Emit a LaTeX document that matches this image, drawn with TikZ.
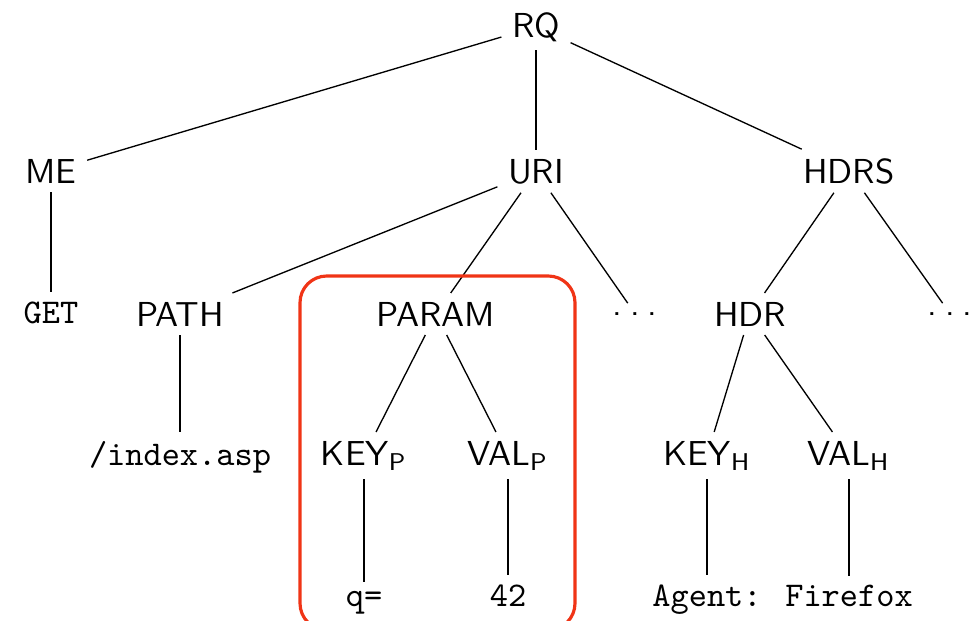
\documentclass[tikz,border=0pt]{standalone}
\usepackage{amsmath}
\definecolor{hilite}{RGB}{240,52,22}
\tikzset{
  lbl/.style={font=\fontsize{10.4}{12.5}\selectfont\sffamily, inner xsep=3pt, inner ysep=2.5pt, anchor=base},
  tok/.style={font=\fontsize{10.4}{12.5}\selectfont\ttfamily, inner xsep=3pt, inner ysep=2.5pt, anchor=base},
  edge/.style={draw=black, line width=0.4pt},
}
% three spaced dots for omitted siblings
\newcommand{\omitdots}{.\kern2.4pt.\kern2.4pt.}
\begin{document}
\begin{tikzpicture}[x=0.3pt, y=-0.3pt]
  \useasboundingbox (0,0) rectangle (977,620);
  \clip (0,0) rectangle (977,620);

  % root and first level
  \node[lbl] (rq)   at (536,37)  {RQ};
  \node[lbl] (me)   at (51,183)  {ME};
  \node[lbl] (uri)  at (536,183) {URI};
  \node[lbl] (hdrs) at (849,183) {HDRS};

  % second level
  \node[tok] (get)   at (51,323)  {GET};
  \node[lbl] (path)  at (180,326) {PATH};
  \node[lbl] (param) at (436,326) {PARAM};
  \node[lbl] (dotsa) at (635,315) {\omitdots};
  \node[lbl] (hdr)   at (750,326) {HDR};
  \node[lbl] (dotsb) at (950,315) {\omitdots};

  % third level
  \node[tok] (idx)  at (180,465) {/index.asp};
  \node[lbl] (keyp) at (364,465) {KEY$_{\textsf{P}}$};
  \node[lbl] (valp) at (508,465) {VAL$_{\textsf{P}}$};
  \node[lbl] (keyh) at (707,465) {KEY$_{\textsf{H}}$};
  \node[lbl] (valh) at (849,465) {VAL$_{\textsf{H}}$};

  % leaves
  \node[tok] (q)     at (364,606) {q=};
  \node[tok] (num)   at (508,606) {42};
  \node[tok] (agent) at (707,606) {Agent:};
  \node[tok] (ff)    at (849,606) {Firefox};

  % tree edges
  \draw[edge] (rq) -- (me);
  \draw[edge] (rq) -- (uri);
  \draw[edge] (rq) -- (hdrs);
  \draw[edge] (me) -- (get);
  \draw[edge] (uri) -- (path);
  \draw[edge] (uri) -- (param);
  \draw[edge] (uri) -- (dotsa);
  \draw[edge] (hdrs) -- (hdr);
  \draw[edge] (hdrs) -- (dotsb);
  \draw[edge] (path) -- (idx);
  \draw[edge] (param) -- (keyp);
  \draw[edge] (param) -- (valp);
  \draw[edge] (keyp) -- (q);
  \draw[edge] (valp) -- (num);
  \draw[edge] (hdr) -- (keyh);
  \draw[edge] (hdr) -- (valh);
  \draw[edge] (keyh) -- (agent);
  \draw[edge] (valh) -- (ff);

  % highlight around the parameter subtree
  \draw[hilite, line width=0.95pt, rounded corners=8pt] (300,276) rectangle (575,630);
\end{tikzpicture}
\end{document}
